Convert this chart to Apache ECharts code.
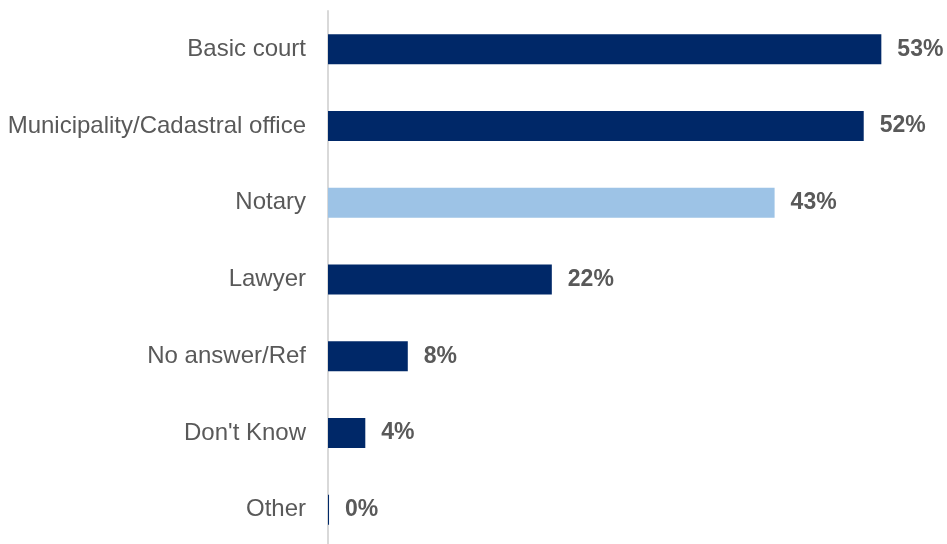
<!DOCTYPE html>
<html>
<head>
<meta charset="utf-8">
<script src="https://cdn.jsdelivr.net/npm/echarts@6/dist/echarts.min.js"></script>
<style>
html,body{margin:0;padding:0;background:#fff;overflow:hidden;}
#main{width:947px;height:550px;}
</style>
</head>
<body>
<div id="main"></div>
<script>
// categories top to bottom
var categories = ['Basic court', 'Municipality/Cadastral office', 'Notary', 'Lawyer', 'No answer/Ref', "Don't Know", 'Other'];
var values = [53.4, 51.7, 43.1, 21.6, 7.7, 3.6, 0.1];
var labels = ['53%', '52%', '43%', '22%', '8%', '4%', '0%'];
var highlight = 'Notary';

var chart = echarts.init(document.getElementById('main'));

var barData = values.map(function (v, i) {
  return {
    value: v,
    itemStyle: { color: categories[i] === highlight ? '#9dc3e6' : '#002868' }
  };
});

// chart div is a bit taller than the window so the last band runs past the bottom edge
var option = {
  animation: false,
  grid: { left: 328, right: 18, top: 11, bottom: 2, containLabel: false },
  xAxis: {
    type: 'value', min: 0, max: 58,
    show: false
  },
  yAxis: {
    type: 'category',
    data: categories,
    inverse: true,
    axisTick: { show: false },
    axisLine: { lineStyle: { color: '#d9d9d9', width: 2 } },
    axisLabel: {
      margin: 22,
      color: '#595959',
      fontSize: 24,
      fontFamily: 'Liberation Sans, Arial, sans-serif'
    }
  },
  series: [{
    type: 'bar',
    data: barData,
    barWidth: 30,
    label: {
      show: true,
      position: 'right',
      distance: 16,
      color: '#595959',
      fontSize: 23,
      fontWeight: 'bold',
      fontFamily: 'Liberation Sans, Arial, sans-serif',
      formatter: function (p) { return labels[p.dataIndex]; }
    }
  }]
};

chart.setOption(option);
</script>
</body>
</html>
